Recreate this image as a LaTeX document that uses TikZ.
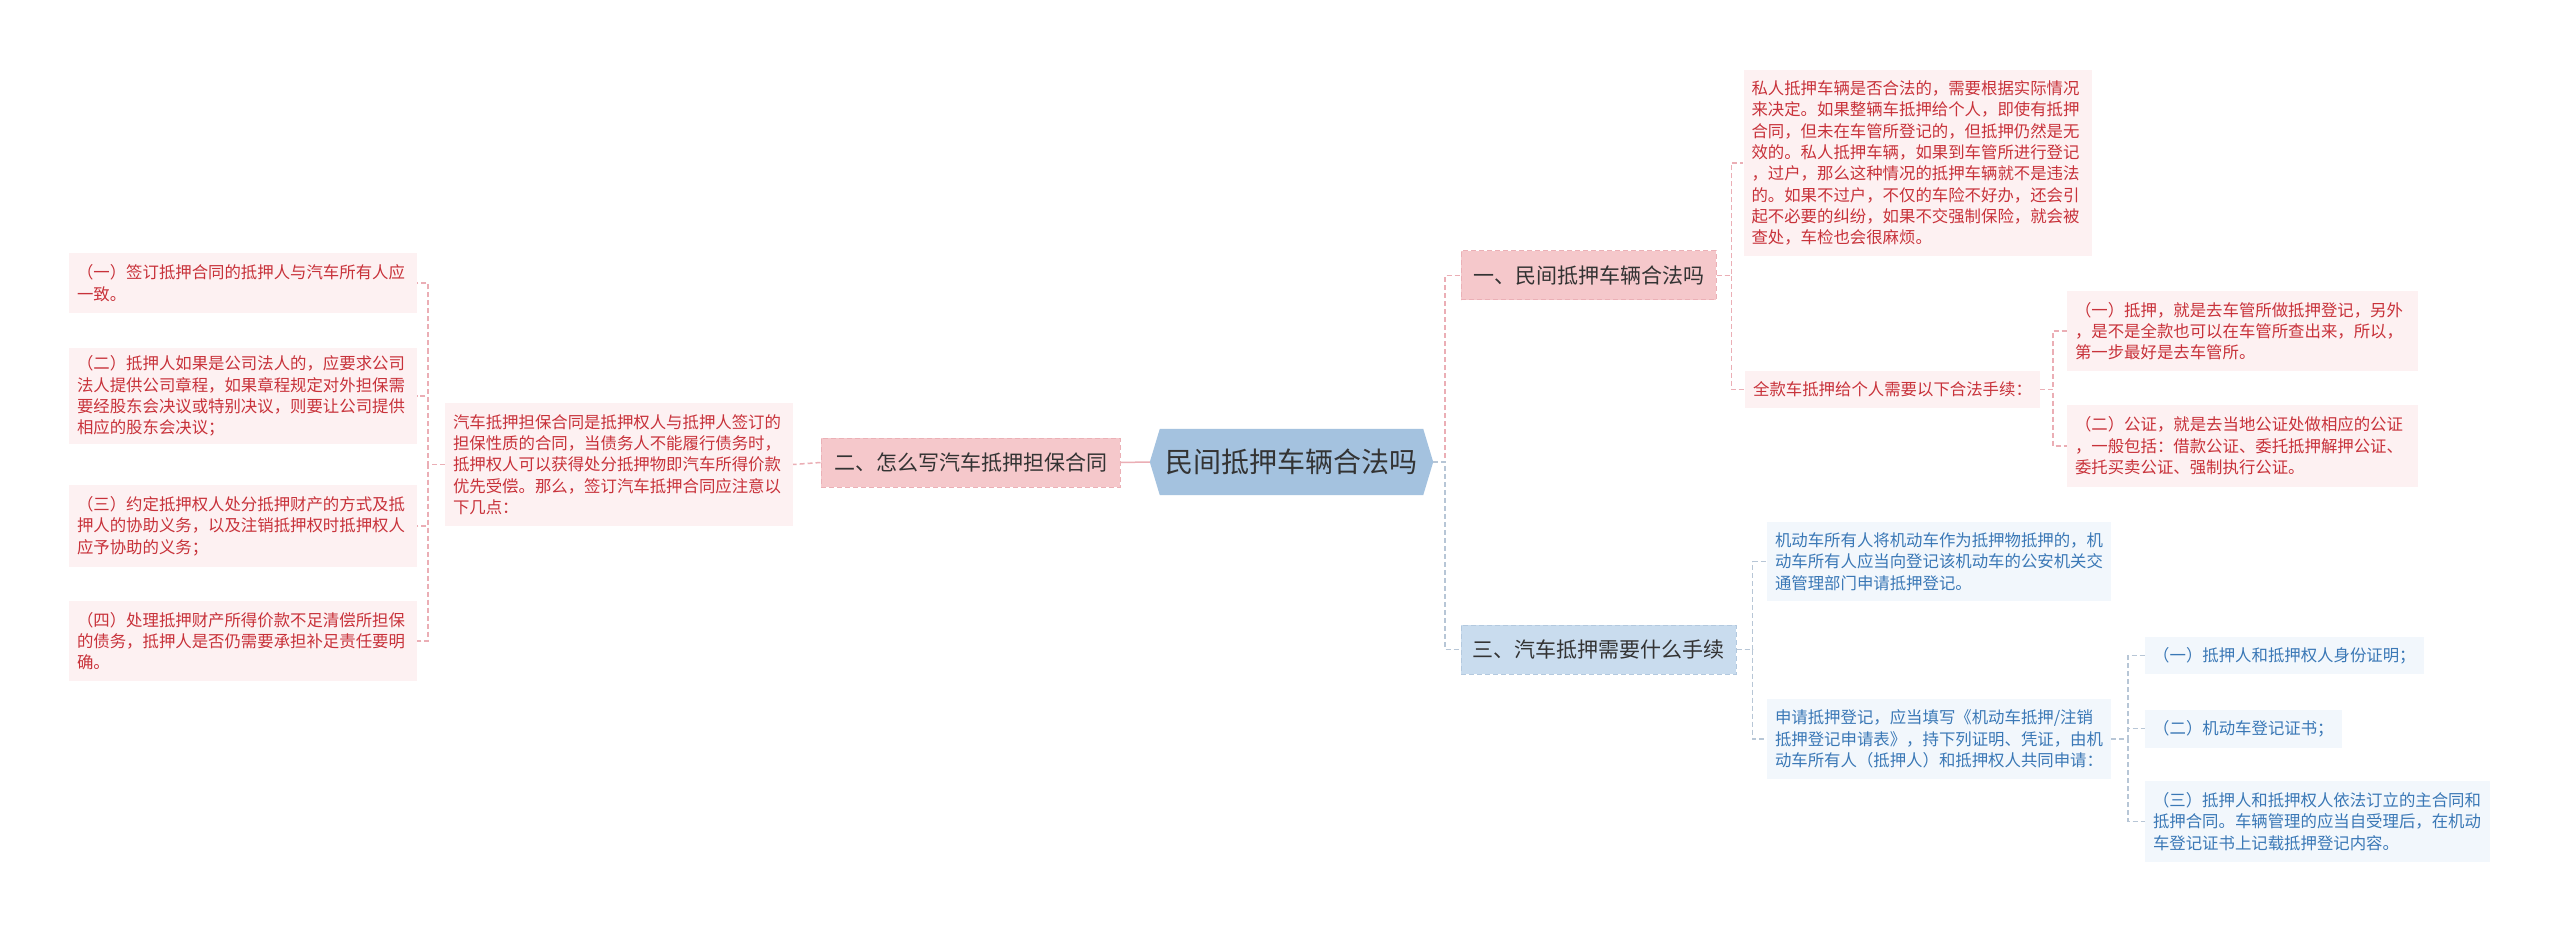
\documentclass[tikz,border=0pt]{standalone}
\usepackage{fontspec}
\newfontfamily\cjk{Noto Sans CJK SC}
\pgfdeclarelayer{bg}
\pgfsetlayers{bg,main}
\definecolor{rootfill}{HTML}{A4C2DF}
\definecolor{pinkfill}{HTML}{F5C8CB}
\definecolor{pinkedge}{HTML}{EBB0B6}
\definecolor{bluefill}{HTML}{C9DCEE}
\definecolor{blueedge}{HTML}{B3C9DF}
\definecolor{pinkleaf}{HTML}{FDF1F2}
\definecolor{blueleaf}{HTML}{F2F7FC}
\definecolor{redtext}{HTML}{C8323A}
\definecolor{bluetext}{HTML}{3A78B6}
\definecolor{darktext}{HTML}{333333}
\definecolor{pinkline}{HTML}{EBAEB5}
\definecolor{blueline}{HTML}{B7C6D6}
\begin{document}
\begin{tikzpicture}[x=1pt,y=-1pt,
  font=\cjk,
  rootbox/.style={minimum width=283pt,minimum height=66pt,inner sep=0pt,text=darktext,font=\cjk\fontsize{28}{32}\selectfont},
  branchp/.style={draw=pinkedge,fill=pinkfill,dash pattern=on 5pt off 3pt,line width=1pt,minimum height=49pt,inner sep=0pt,text=darktext,font=\cjk\fontsize{21}{25}\selectfont},
  branchb/.style={branchp,draw=blueedge,fill=bluefill},
  pleaf/.style={fill=pinkleaf,text=redtext,align=left,inner xsep=8pt,inner ysep=0pt,font=\cjk\fontsize{16.4}{21.3}\selectfont},
  bleaf/.style={pleaf,fill=blueleaf,text=bluetext},
  pconn/.style={draw=pinkline,line width=1.5pt},
  pdash/.style={pconn,dash pattern=on 5pt off 3pt},
  bconn/.style={draw=blueline,line width=1.5pt},
  bdash/.style={bconn,dash pattern=on 5pt off 3pt}
]
\useasboundingbox (0,0) rectangle (2560,933);

% root
\node[rootbox] (root) at (1291.5,462) {民间抵押车辆合法吗};
\begin{pgfonlayer}{bg}
\fill[white] (0,0) rectangle (2560,933);
\fill[rootfill] (root.west) -- ([xshift=10pt]root.north west) -- ([xshift=-10pt]root.north east) -- (root.east) -- ([xshift=-10pt]root.south east) -- ([xshift=10pt]root.south west) -- cycle;
\end{pgfonlayer}

% branches
\node[branchp,minimum width=255pt] (n1) at (1588.5,275.5) {一、民间抵押车辆合法吗};
\node[branchp,minimum width=299pt] (n2) at (970.5,462.5) {二、怎么写汽车抵押担保合同};
\node[branchb,minimum width=275pt] (n3) at (1598.5,649.5) {三、汽车抵押需要什么手续};

% left side
\node[pleaf,text width=332pt,minimum height=123pt] (n2t) at (619,464.5) {汽车抵押担保合同是抵押权人与抵押人签订的\\担保性质的合同，当债务人不能履行债务时，\\抵押权人可以获得处分抵押物即汽车所得价款\\优先受偿。那么，签订汽车抵押合同应注意以\\下几点：};
\node[pleaf,text width=332pt,minimum height=60pt] (l1) at (243,283) {（一）签订抵押合同的抵押人与汽车所有人应\\一致。};
\node[pleaf,text width=332pt,minimum height=96pt] (l2) at (243,396) {（二）抵押人如果是公司法人的，应要求公司\\法人提供公司章程，如果章程规定对外担保需\\要经股东会决议或特别决议，则要让公司提供\\相应的股东会决议；};
\node[pleaf,text width=332pt,minimum height=82pt] (l3) at (243,526) {（三）约定抵押权人处分抵押财产的方式及抵\\押人的协助义务，以及注销抵押权时抵押权人\\应予协助的义务；};
\node[pleaf,text width=332pt,minimum height=80pt] (l4) at (243,641) {（四）处理抵押财产所得价款不足清偿所担保\\的债务，抵押人是否仍需要承担补足责任要明\\确。};

% right, branch one
\node[pleaf,text width=332pt,minimum height=186pt] (t1) at (1917.5,163) {私人抵押车辆是否合法的，需要根据实际情况\\来决定。如果整辆车抵押给个人，即使有抵押\\合同，但未在车管所登记的，但抵押仍然是无\\效的。私人抵押车辆，如果到车管所进行登记\\，过户，那么这种情况的抵押车辆就不是违法\\的。如果不过户，不仅的车险不好办，还会引\\起不必要的纠纷，如果不交强制保险，就会被\\查处，车检也会很麻烦。};
\node[pleaf,minimum height=37pt] (q) at (1892.5,389.5) {全款车抵押给个人需要以下合法手续：};
\node[pleaf,text width=335pt,minimum height=80pt] (a1) at (2242.5,331) {（一）抵押，就是去车管所做抵押登记，另外\\，是不是全款也可以在车管所查出来，所以，\\第一步最好是去车管所。};
\node[pleaf,text width=335pt,minimum height=82pt] (a2) at (2242.5,446) {（二）公证，就是去当地公证处做相应的公证\\，一般包括：借款公证、委托抵押解押公证、\\委托买卖公证、强制执行公证。};

% right, branch three
\node[bleaf,text width=328pt,minimum height=79pt] (b1) at (1939,561.5) {机动车所有人将机动车作为抵押物抵押的，机\\动车所有人应当向登记该机动车的公安机关交\\通管理部门申请抵押登记。};
\node[bleaf,text width=328pt,minimum height=80pt] (b2) at (1939,739) {申请抵押登记，应当填写《机动车抵押/注销\\抵押登记申请表》，持下列证明、凭证，由机\\动车所有人（抵押人）和抵押权人共同申请：};
\node[bleaf,minimum height=37pt,anchor=west] (c1) at (2145,655.5) {（一）抵押人和抵押权人身份证明；};
\node[bleaf,minimum height=38pt,anchor=west] (c2) at (2145,728.5) {（二）机动车登记证书；};
\node[bleaf,text width=329pt,minimum height=81pt] (c3) at (2317.5,821.5) {（三）抵押人和抵押权人依法订立的主合同和\\抵押合同。车辆管理的应当自受理后，在机动\\车登记证书上记载抵押登记内容。};

% connectors
\draw[pconn] (root.west) -- (n2.east);
\draw[pdash] (n2.west) -- (n2t.east);
\foreach \l in {l1,l2,l3,l4} \draw[pdash] (n2t.west) -- ++(-17,0) |- (\l.east);

\draw[pdash] (root.east) -- ++(12,0) |- (n1.west);
\draw[bdash] (root.east) -- ++(12,0) |- (n3.west);

\foreach \l in {t1,q} \draw[pdash] (n1.east) -- ++(15,0) |- (\l.west);
\foreach \l in {a1,a2} \draw[pdash] (q.east) -- ++(13,0) |- (\l.west);

\foreach \l in {b1,b2} \draw[bdash] (n3.east) -- ++(16,0) |- (\l.west);
\foreach \l in {c1,c2,c3} \draw[bdash] (b2.east) -- ++(17,0) |- (\l.west);
\end{tikzpicture}
\end{document}
